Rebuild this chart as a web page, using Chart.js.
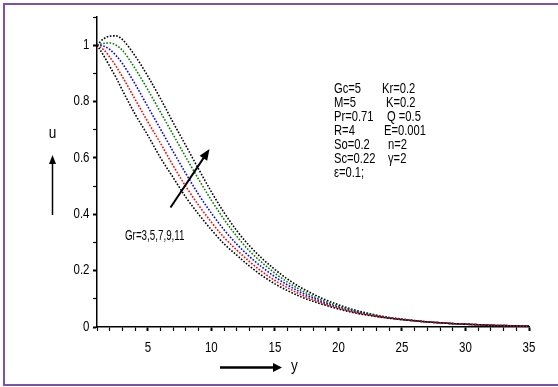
<!DOCTYPE html>
<html>
<head>
<meta charset="utf-8">
<script src="https://cdn.jsdelivr.net/npm/chart.js@4"></script>
<style>
  body { margin: 0; background: #fff; }
  #wrap { width: 558px; height: 387px; }
</style>
</head>
<body>
<div id="wrap"><canvas id="velocity" width="558" height="387"></canvas></div>
<script>
// y positions where the profiles were sampled
var yPts = [1, 1.5, 2, 2.5, 3, 4, 5, 6, 7, 8, 9, 10, 11, 12, 13, 14, 15, 16, 17, 18, 19, 20,
            21, 22, 23, 24, 25, 26, 27, 28, 29, 30, 31, 32, 33, 34, 35];

// velocity u for Gr = 3, 5, 7, 9, 11
var uGr3 = [1, 0.965, 0.925, 0.885, 0.84, 0.755, 0.68, 0.60, 0.53, 0.46, 0.40, 0.345, 0.295, 0.255,
            0.216, 0.182, 0.153, 0.129, 0.108, 0.091, 0.077, 0.064, 0.053, 0.044, 0.037, 0.031, 0.026,
            0.022, 0.018, 0.015, 0.012, 0.010, 0.008, 0.006, 0.005, 0.004, 0.003];
var uGr5 = [1, 0.985, 0.958, 0.925, 0.888, 0.808, 0.728, 0.652, 0.572, 0.498, 0.432, 0.372, 0.318,
            0.273, 0.232, 0.196, 0.165, 0.139, 0.116, 0.097, 0.081, 0.067, 0.055, 0.046, 0.038, 0.032,
            0.027, 0.022, 0.018, 0.015, 0.012, 0.010, 0.008, 0.006, 0.005, 0.004, 0.003];
var uGr7 = [1, 0.997, 0.985, 0.963, 0.935, 0.862, 0.782, 0.702, 0.622, 0.544, 0.470, 0.404, 0.345,
            0.294, 0.250, 0.212, 0.178, 0.149, 0.124, 0.103, 0.085, 0.070, 0.058, 0.048, 0.039, 0.032,
            0.027, 0.022, 0.018, 0.015, 0.012, 0.010, 0.008, 0.006, 0.005, 0.004, 0.003];
var uGr9 = [1, 1.006, 1.008, 1.0, 0.982, 0.917, 0.842, 0.762, 0.682, 0.602, 0.524, 0.450, 0.382,
            0.322, 0.270, 0.228, 0.191, 0.159, 0.132, 0.109, 0.090, 0.074, 0.061, 0.050, 0.041, 0.033,
            0.027, 0.022, 0.018, 0.015, 0.012, 0.010, 0.008, 0.006, 0.005, 0.004, 0.003];
var uGr11 = [1, 1.022, 1.032, 1.033, 1.02, 0.962, 0.89, 0.81, 0.725, 0.643, 0.56, 0.48, 0.406,
             0.342, 0.288, 0.243, 0.204, 0.170, 0.141, 0.117, 0.096, 0.079, 0.064, 0.052, 0.042, 0.034,
             0.028, 0.023, 0.018, 0.015, 0.012, 0.010, 0.008, 0.006, 0.005, 0.004, 0.003];

var curveColors = ['#000000', '#ff0000', '#0000ff', '#008000', '#000000'];
var curveData = [uGr3, uGr5, uGr7, uGr9, uGr11];

var paramLeft = ['Gc=5', 'M=5', 'Pr=0.71', 'R=4', 'So=0.2', 'Sc=0.22', '\u03b5=0.1;'];
var paramRight = ['Kr=0.2', 'K=0.2', 'Q =0.5', 'E=0.001', 'n=2', '\u03b3=2'];

var FONT = '"Liberation Sans", Arial, sans-serif';

function toPoints(arr){
    var pts = [];
    for(var i = 0; i < arr.length; i++){
        pts.push({x: yPts[i], y: arr[i]});
    }
    return pts;
}

var datasets = [];
for(var i = 0; i < curveData.length; i++){
    datasets.push({
        data: toPoints(curveData[i]),
        borderColor: curveColors[i],
        borderWidth: 1.6,
        borderDash: [1.6, 1.6],
        pointRadius: 0,
        fill: false,
        cubicInterpolationMode: 'monotone'
    });
}

// narrow text: horizontally squeezed Liberation Sans
function narrowText(ctx, text, x, y, size, sx, align){
    ctx.save();
    ctx.font = size + 'px ' + FONT;
    ctx.textAlign = align;
    ctx.textBaseline = 'middle';
    ctx.translate(x, y);
    ctx.scale(sx, 1);
    ctx.fillText(text, 0, 0);
    ctx.restore();
}

function arrowHead(ctx, x0, y0, x1, y1, len, half){
    var a = Math.atan2(y1 - y0, x1 - x0);
    ctx.beginPath();
    ctx.moveTo(x1, y1);
    ctx.lineTo(x1 - len*Math.cos(a) + half*Math.sin(a), y1 - len*Math.sin(a) - half*Math.cos(a));
    ctx.lineTo(x1 - len*Math.cos(a) - half*Math.sin(a), y1 - len*Math.sin(a) + half*Math.cos(a));
    ctx.closePath();
    ctx.fill();
}

function arrow(ctx, x0, y0, x1, y1, w, len, half){
    var a = Math.atan2(y1 - y0, x1 - x0);
    ctx.lineWidth = w;
    ctx.beginPath();
    ctx.moveTo(x0, y0);
    ctx.lineTo(x1 - (len - 1)*Math.cos(a), y1 - (len - 1)*Math.sin(a));
    ctx.stroke();
    arrowHead(ctx, x0, y0, x1, y1, len, half);
}

function yLabel(v){
    var k = Math.round(v*10);
    if(k % 2 !== 0 || k > 10) return '';
    return k === 10 ? '1' : k === 0 ? '0' : (k/10).toFixed(1);
}

var decorations = {
    id: 'decorations',
    afterDraw: function(chart){
        var ctx = chart.ctx;
        var xs = chart.scales.x, ys = chart.scales.y;
        ctx.save();
        // frame
        ctx.strokeStyle = '#7b52ad';
        ctx.lineWidth = 2;
        ctx.beginPath();
        ctx.moveTo(560, 4);
        ctx.lineTo(4, 4);
        ctx.lineTo(4, 385);
        ctx.lineTo(560, 385);
        ctx.stroke();

        ctx.fillStyle = '#000';
        // tick labels
        xs.ticks.forEach(function(t){
            if(t.value % 5 === 0){
                narrowText(ctx, String(t.value), xs.getPixelForValue(t.value), 348.5, 14, 0.82, 'center');
            }
        });
        ys.ticks.forEach(function(t){
            var s = yLabel(t.value);
            if(s) narrowText(ctx, s, 89.5, ys.getPixelForValue(t.value), 14, 0.82, 'right');
        });

        ctx.strokeStyle = '#000';
        arrow(ctx, 52.5, 215, 52.5, 155, 1.5, 9, 3.5);
        arrow(ctx, 220, 367.5, 282, 367.5, 2.5, 9, 4.5);
        arrow(ctx, 170.5, 207.5, 209.5, 149, 2, 11, 4.5);

        narrowText(ctx, 'u', 52.5, 133, 17, 0.8, 'center');
        narrowText(ctx, 'y', 291, 366, 17, 0.8, 'left');

        narrowText(ctx, 'Gr=3,5,7,9,11', 125, 236, 14, 0.7, 'left');
        for(var i = 0; i < paramLeft.length; i++){
            narrowText(ctx, paramLeft[i], 334, 89 + i*14, 14, 0.8, 'left');
        }
        var rightX = [382, 386, 387, 384, 388, 388];
        for(var j = 0; j < paramRight.length; j++){
            narrowText(ctx, paramRight[j], rightX[j], 89 + j*14, 14, 0.8, 'left');
        }
        ctx.restore();
    }
};

var ctx = document.getElementById('velocity').getContext('2d');
var chart = new Chart(ctx, {
    type: 'line',
    data: { datasets: datasets },
    options: {
        responsive: false,
        animation: false,
        layout: { padding: { top: 17, right: 29, left: 0, bottom: 0 } },
        plugins: { legend: { display: false }, tooltip: { enabled: false } },
        scales: {
            x: {
                type: 'linear',
                min: 1,
                max: 35,
                afterFit: function(s){ s.height = 60; },
                border: { display: true, color: '#000', width: 1.5 },
                grid: {
                    drawOnChartArea: false,
                    drawTicks: true,
                    tickLength: 4,
                    tickColor: '#000',
                    tickWidth: function(c){ return c.tick && c.tick.value % 5 === 0 ? 2 : 1.2; }
                },
                ticks: { stepSize: 1, autoSkip: false, maxRotation: 0, display: false }
            },
            y: {
                min: 0,
                max: 1.1,
                afterFit: function(s){ s.width = 97; },
                border: { display: true, color: '#000', width: 1.5 },
                grid: {
                    drawOnChartArea: false,
                    drawTicks: true,
                    tickLength: 4,
                    tickColor: '#000',
                    tickWidth: function(c){
                        var k = c.tick ? Math.round(c.tick.value*10) : 1;
                        return k % 2 === 0 ? 2 : 1.2;
                    }
                },
                ticks: { stepSize: 0.1, autoSkip: false, display: false }
            }
        }
    },
    plugins: [decorations]
});
</script>
</body>
</html>
